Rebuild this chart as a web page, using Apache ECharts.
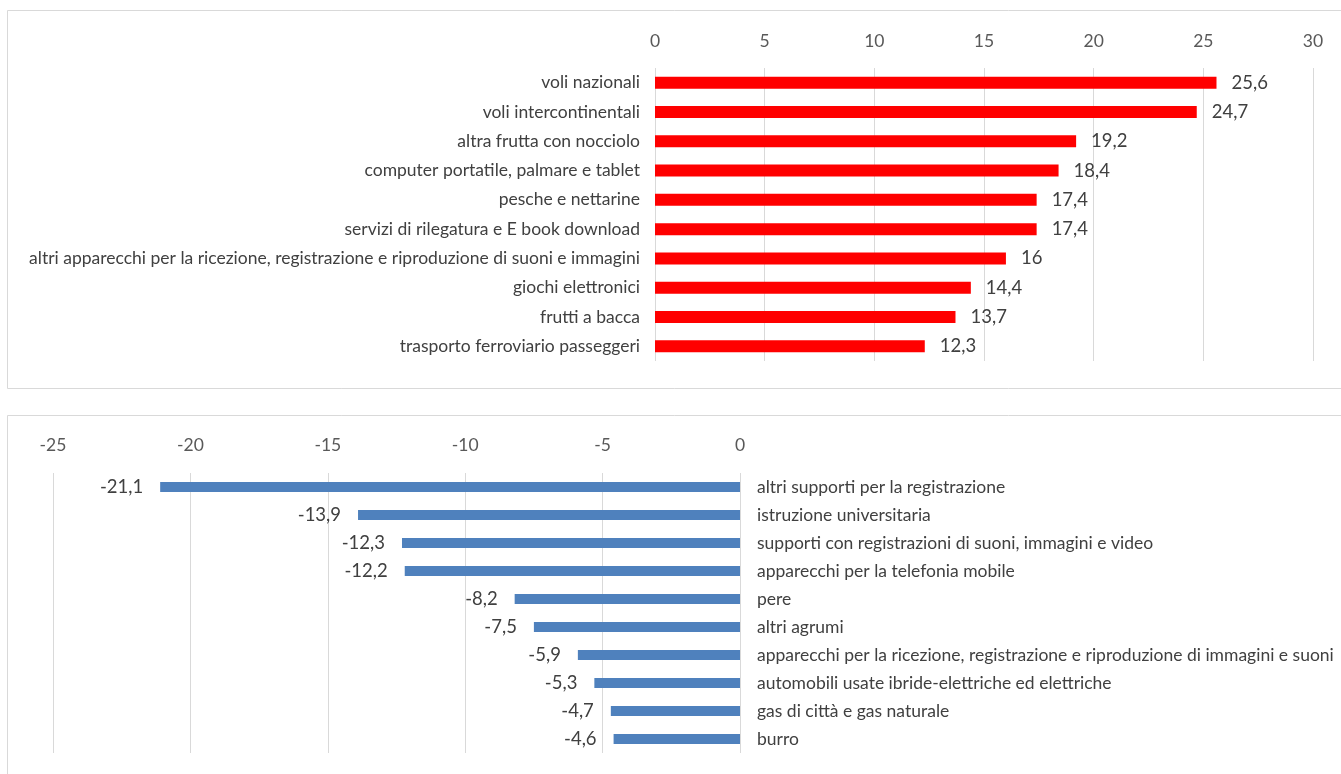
<!DOCTYPE html>
<html>
<head>
<meta charset="utf-8">
<script src="https://cdn.jsdelivr.net/npm/echarts@6/dist/echarts.min.js"></script>
<style>
html,body{margin:0;padding:0;background:#fff;}
#chart{width:1341px;height:774px;}
</style>
</head>
<body>
<div id="chart"></div>
<script>
const topCategories = [
  "voli nazionali",
  "voli intercontinentali",
  "altra frutta con nocciolo",
  "computer portatile, palmare e tablet",
  "pesche e nettarine",
  "servizi di rilegatura e E book download",
  "altri apparecchi per la ricezione, registrazione e riproduzione di suoni e immagini",
  "giochi elettronici",
  "frutti a bacca",
  "trasporto ferroviario passeggeri"
];
const topValues = [25.6, 24.7, 19.2, 18.4, 17.4, 17.4, 16, 14.4, 13.7, 12.3];

const bottomCategories = [
  "altri supporti per la registrazione",
  "istruzione universitaria",
  "supporti con registrazioni di suoni, immagini e video",
  "apparecchi per la telefonia mobile",
  "pere",
  "altri agrumi",
  "apparecchi per la ricezione, registrazione e riproduzione di immagini e suoni",
  "automobili usate ibride-elettriche ed elettriche",
  "gas di città e gas naturale",
  "burro"
];
const bottomValues = [-21.1, -13.9, -12.3, -12.2, -8.2, -7.5, -5.9, -5.3, -4.7, -4.6];

const FONT = 'Lato';
const fmt = p => String(p.value).replace('.', ',');

const chart = echarts.init(document.getElementById('chart'), null, {renderer: 'canvas'});
chart.setOption({
  backgroundColor: '#ffffff',
  animation: false,
  textStyle: {fontFamily: FONT},
  graphic: [
    {type: 'rect', shape: {x: 7.5, y: 10.5, width: 1345, height: 378}, style: {fill: 'none', stroke: '#d9d9d9', lineWidth: 1}, silent: true},
    {type: 'rect', shape: {x: 7.5, y: 415.5, width: 1345, height: 380}, style: {fill: 'none', stroke: '#d9d9d9', lineWidth: 1}, silent: true}
  ],
  grid: [
    {left: 655, right: 28, top: 68, height: 293, containLabel: false},
    {left: 53, right: 601, top: 473, height: 280, containLabel: false}
  ],
  xAxis: [
    {
      gridIndex: 0, type: 'value', position: 'top', min: 0, max: 30, interval: 5,
      axisLine: {show: false}, axisTick: {show: false},
      axisLabel: {color: '#595959', fontSize: 17.5, fontFamily: FONT, margin: 18},
      splitLine: {show: true, lineStyle: {color: '#d9d9d9', width: 1}}
    },
    {
      gridIndex: 1, type: 'value', position: 'top', min: -25, max: 0, interval: 5,
      axisLine: {show: false}, axisTick: {show: false},
      axisLabel: {color: '#595959', fontSize: 17.5, fontFamily: FONT, margin: 19},
      splitLine: {show: true, lineStyle: {color: '#d9d9d9', width: 1}}
    }
  ],
  yAxis: [
    {
      gridIndex: 0, type: 'category', data: topCategories, inverse: true, position: 'left',
      axisLine: {show: false}, axisTick: {show: false},
      axisLabel: {color: '#404040', fontSize: 17.5, fontFamily: FONT, margin: 15}
    },
    {
      gridIndex: 1, type: 'category', data: bottomCategories, inverse: true, position: 'right',
      axisLine: {show: false}, axisTick: {show: false},
      axisLabel: {color: '#404040', fontSize: 17.5, fontFamily: FONT, margin: 17, align: 'left'}
    }
  ],
  series: [
    {
      type: 'bar', xAxisIndex: 0, yAxisIndex: 0, data: topValues, barWidth: 12,
      itemStyle: {color: '#ff0000'},
      label: {show: true, position: 'right', distance: 15, color: '#404040', fontSize: 18.5, fontFamily: FONT, formatter: fmt}
    },
    {
      type: 'bar', xAxisIndex: 1, yAxisIndex: 1, data: bottomValues, barWidth: 10,
      itemStyle: {color: '#4f81bd'},
      label: {show: true, position: 'left', distance: 17, color: '#404040', fontSize: 18.5, fontFamily: FONT, formatter: fmt}
    }
  ]
});
</script>
</body>
</html>
